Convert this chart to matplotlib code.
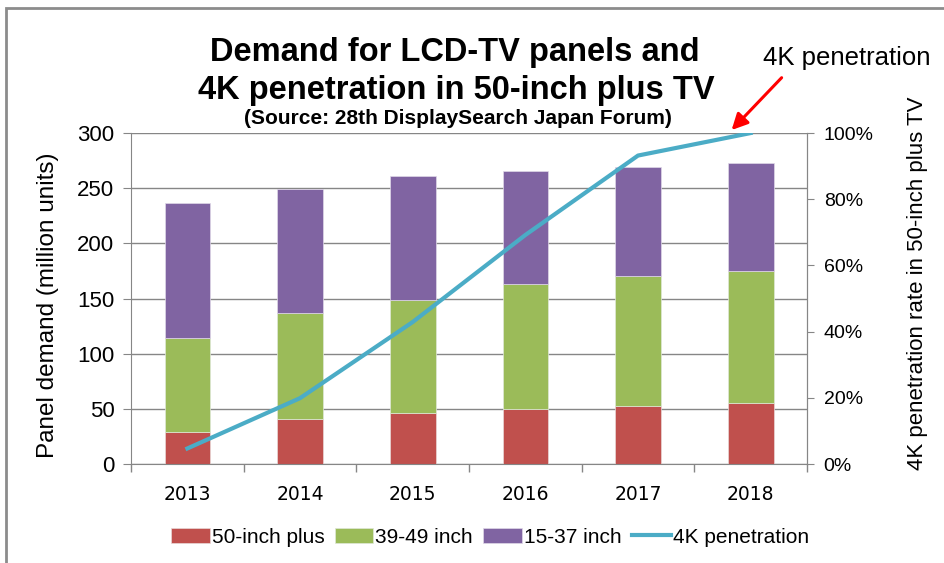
import numpy as np
import matplotlib
matplotlib.use("Agg")
import matplotlib.pyplot as plt
from matplotlib.patches import Rectangle, FancyArrowPatch

plt.rcParams['font.family'] = ['Liberation Sans', 'DejaVu Sans']

years = ['2013', '2014', '2015', '2016', '2017', '2018']
inch50_plus = [29, 41, 46, 50, 53, 55]
inch39_49 = [85, 96, 103, 113, 117, 120]
inch15_37 = [123, 112, 112, 103, 99, 98]
pen_4k = [4.7, 19.9, 42.9, 69.2, 93.2, 100.0]

c_red = '#C0504D'
c_green = '#9BBB59'
c_purple = '#8064A2'
c_line = '#4BACC6'
c_axis = '#868686'

fig = plt.figure(figsize=(9.44, 5.63), dpi=100)
ax = fig.add_axes([0.1388, 0.1758, 0.7161, 0.5879])

x = np.arange(len(years))
b1 = np.array(inch50_plus)
b2 = np.array(inch39_49)
b3 = np.array(inch15_37)
ax.bar(x, b1, 0.405, color=c_red, edgecolor='#e8d8d8', linewidth=0.5, label='50-inch plus', zorder=2)
ax.bar(x, b2, 0.405, bottom=b1, color=c_green, edgecolor='#e0e8d8', linewidth=0.5, label='39-49 inch', zorder=2)
ax.bar(x, b3, 0.405, bottom=b1 + b2, color=c_purple, edgecolor='#e0d8e8', linewidth=0.5, label='15-37 inch', zorder=2)

ax.set_xlim(-0.5, len(years) - 0.5)
ax.set_ylim(0, 300)
ax.set_yticks(range(0, 301, 50))
ax.yaxis.grid(True, color=c_axis, linewidth=1)
ax.set_axisbelow(True)
ax.set_xticks(x)
ax.set_xticklabels(years, fontfamily='DejaVu Sans')
ax.set_xticks(np.arange(-0.5, len(years)), minor=True)
ax.tick_params(axis='x', which='major', length=0, pad=15, labelsize=13.5)
ax.tick_params(axis='x', which='minor', length=6, color=c_axis, width=1)
ax.tick_params(axis='y', length=6, color=c_axis, labelsize=16, pad=6)
ax.set_ylabel('Panel demand (million units)', fontsize=17.5)
ax.yaxis.set_label_coords(-0.106, 0.48)
ax.spines['top'].set_visible(False)
for s in ['left', 'bottom', 'right']:
    ax.spines[s].set_color(c_axis)

ax2 = ax.twinx()
ax2.plot(x, pen_4k, color=c_line, linewidth=3, label='4K penetration', zorder=3)
ax2.set_ylim(0, 100)
ax2.set_yticks(range(0, 101, 20))
ax2.set_yticklabels([f'{v}%' for v in range(0, 101, 20)])
ax2.tick_params(axis='y', length=5, color=c_axis, labelsize=14, pad=7)
ax2.set_ylabel('4K penetration rate in 50-inch plus TV', fontsize=16)
ax2.yaxis.set_label_coords(1.148, 0.547)
for s in ['top', 'left', 'bottom']:
    ax2.spines[s].set_visible(False)
ax2.spines['right'].set_color(c_axis)

h1, l1 = ax.get_legend_handles_labels()
h2, l2 = ax2.get_legend_handles_labels()
fig.legend(h1 + h2, l1 + l2, loc='center', bbox_to_anchor=(0.519, 0.046), ncol=4,
           frameon=False, fontsize=15, handlelength=1.85, handleheight=0.7,
           handletextpad=0.1, columnspacing=0.5)

fig.text(0.482, 0.907, 'Demand for LCD-TV panels and', ha='center', va='center',
         fontsize=23.5, fontweight='bold')
fig.text(0.483, 0.839, '4K penetration in 50-inch plus TV', ha='center', va='center',
         fontsize=23.5, fontweight='bold')
fig.text(0.485, 0.789, '(Source: 28th DisplaySearch Japan Forum)', ha='center', va='center',
         fontsize=15, fontweight='bold')

fig.text(0.897, 0.897, '4K penetration', ha='center', va='center', fontsize=18.5)
fig.patches.append(FancyArrowPatch((0.828, 0.862), (0.775, 0.769), transform=fig.transFigure,
                                   arrowstyle='-|>', color='red', lw=2.2,
                                   mutation_scale=24, shrinkA=0, shrinkB=0))

fig.patches.append(Rectangle((0.006, -0.1), 1.1, 1.086, transform=fig.transFigure,
                             fill=False, edgecolor='#8c8c8c', linewidth=2))

fig.savefig('out.png', dpi=100)
